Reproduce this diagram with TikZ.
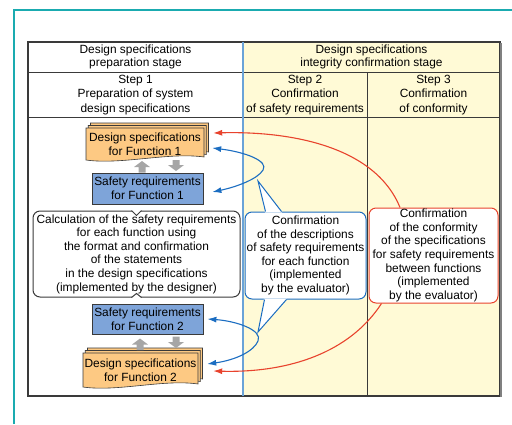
\documentclass[tikz,border=0pt]{standalone}
\usepackage{fontspec}
\setmainfont{Liberation Sans}
\usetikzlibrary{arrows.meta,calc}
\definecolor{frameteal}{HTML}{1AABB0}
\definecolor{stagey}{HTML}{FFFAD6}
\definecolor{docorange}{HTML}{FDC983}
\definecolor{reqblue}{HTML}{7EA4D9}
\definecolor{linkblue}{HTML}{1B6DC1}
\definecolor{divblue}{HTML}{6AA3D8}
\definecolor{linkred}{HTML}{E8432D}
\definecolor{blockgray}{HTML}{A6A6A6}
\definecolor{tabline}{HTML}{3A3A3A}
\newcommand\mydoclayer[4]{%
  \pgfmathsetmacro\dw{#3-#1}%
  \filldraw[fill=docorange,draw=tabline,line width=0.6pt]
    (#1,#2) -- (#3,#2) -- (#3,#4-3)
    .. controls (#1+0.7*\dw,#4-8) and (#1+0.3*\dw,#4+5) .. (#1,#4) -- cycle;}
\newcommand\mydocstack[4]{%
  \mydoclayer{#1+4.5}{#2-5}{#3+4.5}{#4-5}%
  \mydoclayer{#1+2.25}{#2-2.5}{#3+2.25}{#4-2.5}%
  \mydoclayer{#1}{#2}{#3}{#4}}
% block arrow: x, tail y, tip y
\newcommand\myblockarrow[3]{%
  \pgfmathsetmacro\hb{#3+6*sign(#2-#3)}%
  \fill[blockgray] (#1-3.5,#2) -- (#1-3.5,\hb) -- (#1-8,\hb) -- (#1,#3)
    -- (#1+8,\hb) -- (#1+3.5,\hb) -- (#1+3.5,#2) -- cycle;}
\tikzset{
  lbl/.style={align=center,font=\fontsize{11.9}{13.6}\selectfont,inner sep=0pt},
  hdr/.style={lbl},
  reqbox/.style={lbl,draw=tabline,line width=0.8pt,fill=reqblue},
  callout/.style={lbl,rounded corners=7pt,line width=1pt,fill=white},
  bluelink/.style={draw=linkblue,line width=1.1pt},
  redlink/.style={draw=linkred,line width=1.1pt},
  linktip/.style={-{Latex[length=9pt,width=6pt]}},
  bothtips/.style={{Latex[length=9pt,width=6pt]}-{Latex[length=9pt,width=6pt]}},
}
\begin{document}
\begin{tikzpicture}[x=1pt,y=-1pt]
\useasboundingbox (0,0) rectangle (512,424);
% outer frame (open to the right and bottom)
\draw[frameteal,line width=1.2pt] (14,424) -- (14,10) -- (512,10);
% table
\fill[stagey] (243,42) rectangle (500,396);
\draw[tabline,line width=1pt] (28,72) -- (500,72);
\draw[tabline,line width=1pt] (28,117) -- (500,117);
\draw[tabline,line width=1pt] (367,72) -- (367,396);
\draw[tabline,line width=1.2pt] (28,42) rectangle (500,396);
\draw[gray,line width=1.2pt] (501,43) -- (501,397);
\draw[divblue,line width=1.3pt] (243,42) -- (243,396);
% header texts
\node[hdr,font=\fontsize{11.9}{13.3}\selectfont] (h1) at (135.5,57) {Design specifications\\preparation stage};
\node[hdr,font=\fontsize{11.9}{13.3}\selectfont] (h2) at (371.5,57) {Design specifications\\integrity confirmation stage};
\node[hdr,font=\fontsize{11.9}{14.2}\selectfont] (s1) at (135.5,95) {Step 1\\Preparation of system\\design specifications};
\node[hdr,font=\fontsize{11.9}{14.2}\selectfont] (s2) at (305,95) {Step 2\\Confirmation\\of safety requirements};
\node[hdr,font=\fontsize{11.9}{14.2}\selectfont] (s3) at (433.5,95) {Step 3\\Confirmation\\of conformity};
% document stacks
\mydocstack{86}{128}{204}{160}
\node[lbl,minimum width=118pt,minimum height=32pt] (ds1) at (145,144) {Design specifications\\for Function 1};
\mydocstack{83}{353}{198}{387}
\node[lbl,minimum width=115pt,minimum height=34pt] (ds2) at (140.5,370) {Design specifications\\for Function 2};
% safety requirement boxes
\node[reqbox,minimum width=111pt,minimum height=31pt] (sr1) at (147.5,188.5) {Safety requirements\\for Function 1};
\node[reqbox,minimum width=111pt,minimum height=30pt] (sr2) at (147.5,319) {Safety requirements\\for Function 2};
% gray block arrows
\myblockarrow{142}{172.5}{161}
\myblockarrow{176}{160}{171}
\myblockarrow{140}{350}{338.5}
\myblockarrow{176}{336.5}{348}
% black callout
\node[callout,draw=tabline,minimum width=207pt,minimum height=86pt] (cb) at (136.5,254) {Calculation of the safety requirements\\for each function using\\the format and confirmation\\of the statements\\in the design specifications\\(implemented by the designer)};
\fill[white] ([xshift=-5.5,yshift=1]cb.north) -- ([yshift=-5]cb.north) -- ([xshift=5.5,yshift=1]cb.north) -- cycle;
\draw[tabline,line width=1pt] ([xshift=-5]cb.north) -- ([yshift=-5]cb.north) -- ([xshift=5]cb.north);
\fill[white] ([xshift=-5.5,yshift=-1]cb.south) -- ([yshift=4]cb.south) -- ([xshift=5.5,yshift=-1]cb.south) -- cycle;
\draw[tabline,line width=1pt] ([xshift=-5]cb.south) -- ([yshift=4]cb.south) -- ([xshift=5]cb.south);
% blue callout
\node[callout,draw=linkblue,minimum width=121pt,minimum height=87pt] (cv) at (305.5,255.5) {Confirmation\\of the descriptions\\of safety requirements\\for each function\\(implemented\\by the evaluator)};
% red callout
\node[callout,draw=linkred,minimum width=129pt,minimum height=95pt] (cr) at (433.5,255.5) {Confirmation\\of the conformity\\of the specifications\\for safety requirements\\between functions\\(implemented\\by the evaluator)};
% blue loops
\draw[bluelink,bothtips] ([shift={(8,4)}]ds1.east) .. controls (245,152) and (269,161) .. (263,170) .. controls (258,179) and (236,187) .. ([shift={(9,3.5)}]sr1.east);
\draw[bluelink,bothtips] ([shift={(4,0)}]sr2.east) .. controls (236,321) and (263,330) .. (258,341) .. controls (254,351) and (236,360) .. ([shift={(9,-6)}]ds2.east);
% blue pointers of the callout
\fill[white] ([shift={(20.5,1)}]cv.north west) -- (258,181) -- ([shift={(37.5,1)}]cv.north west) -- cycle;
\draw[linkblue,line width=1pt] ([xshift=21]cv.north west) -- (258,181) -- ([xshift=37]cv.north west);
\fill[white] ([shift={(19.5,-1)}]cv.south west) -- (258,332) -- ([shift={(42.5,-1)}]cv.south west) -- cycle;
\draw[linkblue,line width=1pt] ([xshift=20]cv.south west) -- (258,332) -- ([xshift=42]cv.south west);
% red links
\draw[redlink,linktip] ([xshift=-33.5]cr.north) .. controls (375,146) and (290,131) .. ([shift={(9,-11)}]ds1.east);
\draw[redlink,linktip] ([xshift=13]cr.south west) .. controls (350,352) and (290,373) .. ([shift={(15,1)}]ds2.east);
\end{tikzpicture}
\end{document}
